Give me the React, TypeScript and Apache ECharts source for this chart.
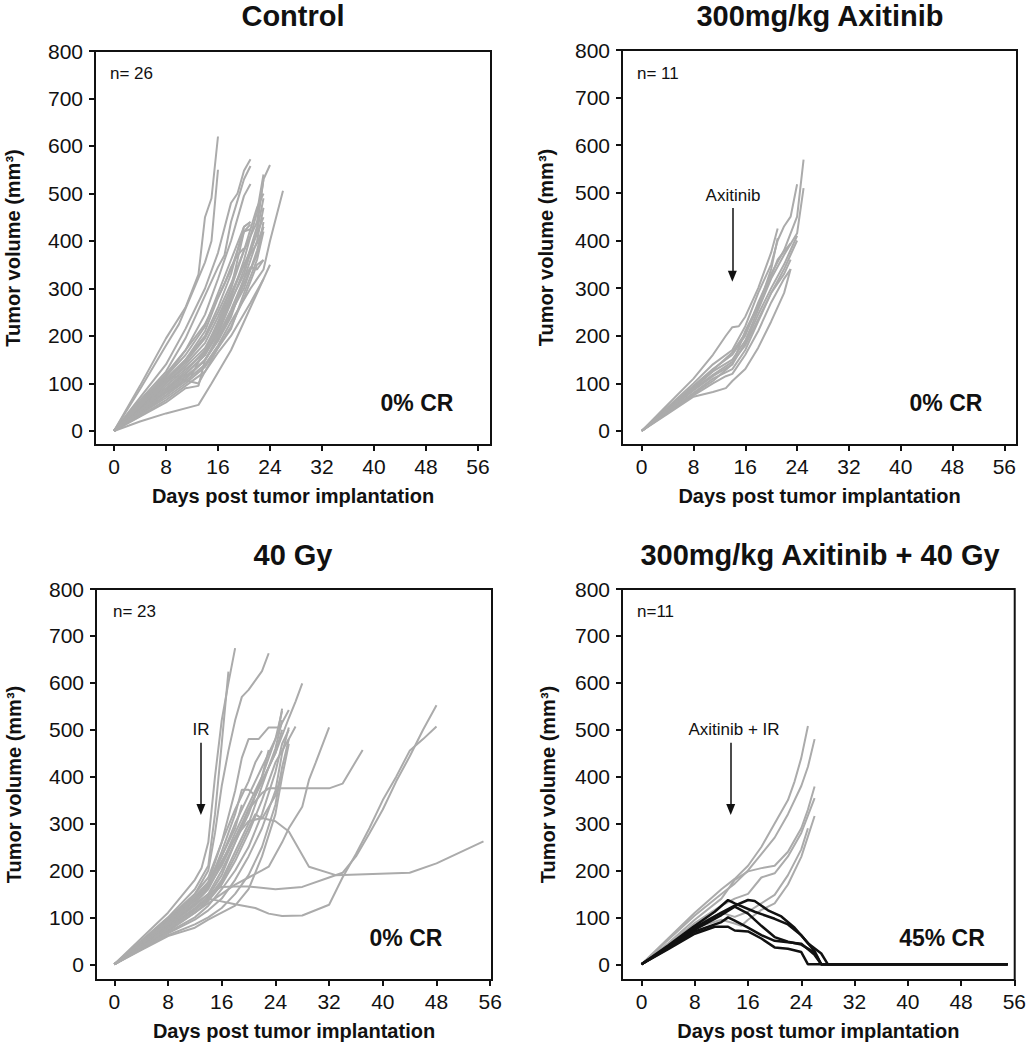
import React, { useEffect, useRef } from "react";
import * as echarts from "echarts";

type Pt = [number, number];

// ---------- Data (day, tumor volume mm3) ----------
const xTicks = [0, 8, 16, 24, 32, 40, 48, 56];
const yTicks = [0, 100, 200, 300, 400, 500, 600, 700, 800];

const panelTitles = ["Control", "300mg/kg Axitinib", "40 Gy", "300mg/kg Axitinib + 40 Gy"];
const nLabels = ["n= 26", "n= 11", "n= 23", "n=11"];
const crLabels = ["0% CR", "0% CR", "0% CR", "45% CR"];
const arrowLabels = ["", "Axitinib", "IR", "Axitinib + IR"];
// arrow: [day, top volume, tip volume]
const arrowDefs: (number[] | null)[] = [null, [14, 468, 325], [12.9, 472, 330], [13.4, 472, 330]];

const controlMice: Pt[][] = [
  [[0, 0], [4, 95], [8, 195], [11, 260], [13, 330], [14, 450], [15, 490], [16, 620]],
  [[0, 0], [4, 88], [8, 180], [10, 225], [12, 290], [14, 355], [15, 400], [16, 550]],
  [[0, 0], [4, 70], [8, 140], [11, 215], [14, 300], [16, 375], [18, 480], [19, 500], [20, 548], [21, 572]],
  [[0, 0], [4, 65], [8, 125], [11, 195], [14, 285], [16, 345], [17, 370], [18, 440], [19, 485], [20, 530], [21, 558]],
  [[0, 0], [4, 60], [8, 115], [11, 170], [14, 245], [16, 320], [18, 400], [20, 495], [21, 520]],
  [[0, 0], [4, 55], [8, 110], [11, 150], [14, 200], [16, 260], [18, 330], [20, 430], [21, 440]],
  [[0, 0], [4, 50], [8, 100], [11, 140], [14, 185], [16, 240], [18, 300], [20, 420], [21, 425]],
  [[0, 0], [4, 45], [8, 95], [11, 130], [14, 165], [16, 210], [18, 280], [20, 360], [22, 460], [23, 540]],
  [[0, 0], [4, 48], [8, 90], [11, 120], [14, 160], [16, 205], [18, 270], [20, 340], [22, 430], [23, 530], [24, 560]],
  [[0, 0], [4, 40], [8, 80], [11, 110], [14, 150], [16, 190], [18, 250], [20, 300], [22, 380], [23, 430]],
  [[0, 0], [4, 38], [8, 75], [11, 105], [14, 140], [16, 180], [18, 230], [21, 300], [23, 340], [24, 400], [26, 506]],
  [[0, 0], [4, 35], [8, 70], [11, 100], [14, 135], [16, 175], [18, 220], [20, 280], [22, 350], [23, 360]],
  [[0, 0], [4, 30], [8, 60], [11, 90], [13, 95], [14, 150], [16, 190], [18, 240], [20, 320], [22, 400], [23, 470]],
  [[0, 0], [4, 20], [8, 37], [13, 55], [15, 100], [18, 170], [20, 230], [22, 290], [23, 320]],
  [[0, 0], [4, 40], [8, 85], [10, 110], [13, 100], [14, 125], [16, 175], [18, 215], [20, 290], [22, 360], [23, 420]],
  [[0, 0], [4, 50], [8, 110], [10, 115], [12, 120], [14, 170], [16, 230], [18, 300], [20, 380], [22, 470], [23, 500]],
  [[0, 0], [4, 55], [8, 105], [11, 145], [14, 195], [16, 250], [18, 310], [20, 380], [22, 440], [23, 530]],
  [[0, 0], [4, 45], [8, 100], [11, 135], [14, 175], [16, 225], [18, 290], [21, 380], [23, 450]],
  [[0, 0], [4, 42], [8, 85], [11, 120], [14, 160], [16, 215], [18, 275], [20, 330], [22, 420], [23, 490]],
  [[0, 0], [4, 32], [8, 65], [11, 95], [14, 125], [16, 165], [18, 200], [21, 270], [23, 320], [24, 350]],
  [[0, 0], [4, 60], [8, 120], [11, 170], [14, 225], [17, 310], [18, 345], [19, 370], [20, 385]],
  [[0, 0], [4, 52], [8, 105], [11, 150], [14, 210], [16, 280], [18, 340], [19, 380], [20, 420], [21, 435]],
  [[0, 0], [4, 36], [8, 75], [11, 110], [14, 150], [16, 195], [18, 245], [20, 310], [22, 370], [23, 440]],
  [[0, 0], [4, 44], [8, 90], [11, 125], [14, 170], [16, 220], [18, 285], [20, 350], [22, 395], [23, 430]],
  [[0, 0], [4, 38], [8, 82], [11, 115], [14, 148], [16, 200], [18, 255], [20, 320], [21, 345], [22, 340], [23, 360]],
  [[0, 0], [4, 58], [8, 115], [11, 160], [14, 220], [16, 290], [18, 360], [20, 430], [21, 440]],
];

const axitinibMice: Pt[][] = [
  [[0, 0], [4, 55], [8, 110], [11, 160], [13, 200], [14, 218], [15, 220], [16, 240], [18, 300], [20, 375], [21, 425]],
  [[0, 0], [4, 50], [8, 100], [11, 140], [14, 170], [16, 220], [18, 290], [20, 350], [21, 400], [22, 430], [23, 450], [24, 518]],
  [[0, 0], [4, 48], [8, 95], [11, 130], [14, 160], [16, 200], [18, 270], [20, 330], [22, 380], [24, 450], [25, 570]],
  [[0, 0], [4, 45], [8, 90], [11, 125], [14, 150], [16, 190], [18, 255], [20, 320], [22, 370], [24, 415], [25, 510]],
  [[0, 0], [4, 42], [8, 85], [11, 115], [14, 140], [16, 185], [18, 245], [20, 300], [22, 350], [23, 380], [24, 410]],
  [[0, 0], [4, 40], [8, 80], [11, 110], [14, 130], [16, 170], [18, 230], [20, 290], [22, 340], [23, 370], [24, 400]],
  [[0, 0], [4, 38], [8, 75], [11, 100], [13, 115], [14, 120], [16, 160], [18, 210], [20, 270], [22, 320], [23, 340]],
  [[0, 0], [4, 36], [8, 72], [11, 82], [13, 90], [14, 105], [16, 130], [18, 175], [20, 230], [22, 290], [23, 340]],
  [[0, 0], [4, 40], [8, 78], [11, 105], [14, 140], [15, 175], [16, 210], [18, 265], [20, 325], [21, 360], [23, 394]],
  [[0, 0], [4, 46], [8, 92], [11, 128], [14, 165], [16, 205], [18, 260], [19, 300], [20, 340], [21, 405]],
  [[0, 0], [4, 44], [8, 88], [11, 118], [14, 145], [16, 180], [18, 235], [20, 290], [22, 330], [23, 360]],
];

const irMice: Pt[][] = [
  [[0, 0], [4, 55], [8, 110], [12, 180], [13, 205], [14, 260], [15, 400], [16, 520], [17, 600], [18, 674]],
  [[0, 0], [4, 50], [8, 100], [12, 160], [14, 210], [15, 320], [16, 470], [17, 624]],
  [[0, 0], [4, 45], [8, 95], [12, 150], [14, 200], [15, 280], [16, 380], [17, 455], [18, 520], [19, 570], [20, 585], [22, 625], [23, 663]],
  [[0, 0], [4, 40], [8, 82], [12, 130], [14, 165], [16, 210], [18, 270], [20, 330], [22, 390], [24, 450], [26, 525], [27, 560], [28, 599]],
  [[0, 0], [4, 44], [8, 90], [12, 140], [14, 175], [16, 260], [18, 370], [19, 440], [20, 480], [21.5, 480], [23, 505], [24.5, 505], [25, 545]],
  [[0, 0], [4, 42], [8, 88], [12, 135], [14, 170], [16, 230], [18, 300], [20, 360], [22, 420], [24, 480], [25, 515], [26, 542]],
  [[0, 0], [4, 36], [8, 72], [12, 110], [14, 135], [16, 170], [18, 220], [20, 280], [22, 350], [24, 430], [26, 480], [27, 507]],
  [[0, 0], [4, 35], [8, 70], [12, 110], [14, 130], [16, 150], [18, 170], [20, 185], [22, 200], [23, 208], [25, 260], [26, 290], [28, 336], [29, 393], [30, 430], [32, 505]],
  [[0, 0], [4, 38], [8, 78], [12, 120], [14, 145], [16, 190], [18, 260], [20, 330], [22, 365], [23, 375], [28, 375], [32, 375], [34, 385], [37, 457]],
  [[0, 0], [4, 45], [8, 92], [12, 140], [14, 170], [16, 220], [18, 270], [20, 305], [22, 312], [24, 305], [26, 283], [29, 208], [33, 190], [44, 195], [48, 215], [55, 262]],
  [[0, 0], [4, 40], [8, 84], [12, 128], [14, 150], [16, 165], [18, 166], [20, 166], [24, 160], [28, 165], [32, 185], [34, 195], [36, 230], [38, 279], [40, 330], [42, 390], [44, 443], [46, 500], [48, 552]],
  [[0, 0], [4, 37], [8, 76], [12, 118], [14, 140], [18, 128], [21, 120], [23, 108], [25, 103], [28, 104], [32, 127], [34, 185], [36, 235], [38, 290], [40, 350], [42, 400], [44, 455], [46, 480], [48, 507]],
  [[0, 0], [4, 40], [8, 80], [12, 125], [14, 150], [16, 200], [18, 260], [20, 320], [22, 400], [24, 480], [25, 540]],
  [[0, 0], [4, 38], [8, 76], [12, 118], [14, 140], [16, 180], [18, 240], [20, 300], [22, 380], [24, 460], [25, 520]],
  [[0, 0], [4, 34], [8, 68], [12, 100], [14, 125], [16, 160], [18, 200], [20, 250], [22, 320], [24, 410], [25, 470], [26, 500]],
  [[0, 0], [4, 42], [8, 86], [12, 130], [14, 160], [16, 215], [18, 280], [20, 340], [22, 400], [23, 457]],
  [[0, 0], [4, 44], [8, 90], [12, 138], [14, 170], [16, 240], [18, 320], [19, 372], [20, 372], [21, 360], [22, 390], [24, 450], [25, 500]],
  [[0, 0], [4, 32], [8, 62], [12, 85], [14, 100], [16, 120], [18, 150], [20, 190], [22, 250], [24, 340], [25, 420], [26, 480]],
  [[0, 0], [4, 30], [8, 60], [12, 78], [14, 95], [16, 110], [18, 125], [20, 160], [22, 230], [24, 320], [25, 400], [26, 470]],
  [[0, 0], [4, 46], [8, 95], [12, 145], [14, 175], [16, 230], [18, 290], [19, 340]],
  [[0, 0], [4, 48], [8, 98], [12, 150], [14, 185], [16, 260], [18, 330], [20, 390], [21, 430], [22, 455]],
  [[0, 0], [4, 37], [8, 75], [12, 115], [14, 138], [16, 175], [18, 230], [20, 290], [21, 320], [22, 310], [24, 360], [25, 410]],
  [[0, 0], [4, 33], [8, 66], [12, 95], [14, 115], [16, 140], [18, 180], [20, 230], [22, 290], [24, 370], [25, 450], [26, 505]],
];

const comboGrowMice: Pt[][] = [
  [[0, 0], [4, 55], [8, 110], [12, 160], [14, 182], [16, 210], [18, 250], [20, 300], [22, 350], [23, 390], [24, 440], [25, 508]],
  [[0, 0], [4, 52], [8, 104], [12, 150], [14, 172], [16, 200], [18, 235], [20, 270], [22, 320], [24, 380], [25, 421], [26, 480]],
  [[0, 0], [4, 45], [8, 95], [12, 140], [14, 180], [16, 198], [18, 205], [20, 210], [22, 240], [24, 290], [25, 330], [26, 379]],
  [[0, 0], [4, 42], [8, 88], [12, 125], [14, 140], [16, 150], [18, 185], [20, 194], [22, 230], [24, 280], [26, 354]],
  [[0, 0], [4, 38], [8, 78], [12, 95], [14, 87], [15, 82], [16, 95], [18, 116], [20, 130], [22, 170], [24, 229], [26, 316]],
  [[0, 0], [4, 40], [8, 82], [12, 110], [14, 101], [16, 112], [18, 130], [20, 148], [22, 190], [24, 245], [25, 290]],
];

const comboCRMice: Pt[][] = [
  [[0, 0], [4, 40], [8, 82], [11, 112], [13, 137], [14, 130], [17, 112], [20, 97], [22, 85], [24, 62], [26, 28], [27, 0], [55, 0]],
  [[0, 0], [4, 38], [8, 78], [12, 110], [14, 125], [16, 137], [17, 135], [19, 115], [21, 102], [23, 78], [25, 45], [27, 23], [28, 0], [55, 0]],
  [[0, 0], [4, 36], [8, 74], [12, 105], [14, 123], [16, 108], [18, 82], [20, 58], [22, 48], [24, 42], [26, 25], [27, 0], [55, 0]],
  [[0, 0], [4, 34], [8, 70], [12, 90], [13, 100], [14, 93], [16, 78], [18, 62], [20, 50], [22, 47], [24, 44], [26, 20], [27, 0], [55, 0]],
  [[0, 0], [4, 32], [8, 65], [11, 80], [13, 80], [14, 72], [16, 70], [18, 55], [20, 36], [22, 33], [24, 26], [25, 0], [55, 0]],
];

// ---------- Layout ----------
const grids = [
  { left: 95, top: 51, width: 396, height: 394, xMin: -2.92, xMax: 58.0, yMin: -29.5 },
  { left: 622, top: 50, width: 395, height: 395, xMin: -3.04, xMax: 57.96, yMin: -29.4 },
  { left: 96, top: 589, width: 396, height: 391, xMin: -2.73, xMax: 56.27, yMin: -33.5 },
  { left: 622, top: 589, width: 396, height: 391, xMin: -2.93, xMax: 56.06, yMin: -33.5 },
];
const yNameGaps = [72, 66, 72, 64];
const titlePos = [[293, 16], [820, 16], [293, 555], [820, 555]];
const nPos = [[110, 73], [637, 73], [113, 611], [637, 611]];
const crPos = [[417, 403], [946, 403], [406, 938], [942, 938]];
const arrowTextPos = [[0, 0], [733, 195], [201, 729], [734, 729]];

const GRAY = "#ababab";
const FONT = '"Liberation Sans", Arial, Helvetica, sans-serif';

export default function App() {
  const ref = useRef<HTMLDivElement>(null);
  useEffect(() => {
    if (!ref.current) return;
    const chart = echarts.init(ref.current, undefined, { renderer: "svg" });

    const gridOpt = grids.map((g) => ({
      left: g.left, top: g.top, width: g.width, height: g.height,
      show: true, borderColor: "#111", borderWidth: 2, backgroundColor: "transparent",
    }));
    const xAxes = grids.map((g, i) => ({
      type: "value", gridIndex: i, min: g.xMin, max: g.xMax,
      name: "Days post tumor implantation", nameLocation: "middle", nameGap: 41,
      nameTextStyle: { fontFamily: FONT, fontWeight: "bold", fontSize: 20, color: "#111" },
      axisLine: { show: false, onZero: false },
      axisTick: { show: true, customValues: xTicks, length: 6, lineStyle: { color: "#111", width: 2 } },
      axisLabel: { customValues: xTicks, margin: 11, fontFamily: FONT, fontSize: 21, color: "#111" },
      splitLine: { show: false },
    }));
    const yAxes = grids.map((g, i) => ({
      type: "value", gridIndex: i, min: g.yMin, max: 800,
      name: "Tumor volume (mm³)", nameLocation: "middle", nameGap: yNameGaps[i], nameRotate: 90,
      nameTextStyle: { fontFamily: FONT, fontWeight: "bold", fontSize: 20, color: "#111" },
      axisLine: { show: false, onZero: false },
      axisTick: { show: true, customValues: yTicks, length: 6, lineStyle: { color: "#111", width: 2 } },
      axisLabel: { customValues: yTicks, margin: 12, fontFamily: FONT, fontSize: 21, color: "#111" },
      splitLine: { show: false },
    }));

    const series: any[] = [];
    const addLines = (mice: Pt[][], idx: number, color: string, width: number, z: number) => {
      mice.forEach((m) => {
        series.push({
          type: "line", xAxisIndex: idx, yAxisIndex: idx, data: m, showSymbol: false, symbol: "none",
          lineStyle: { color, width }, silent: true, z, clip: true,
        });
      });
    };
    addLines(controlMice, 0, GRAY, 2, 2);
    addLines(axitinibMice, 1, GRAY, 2, 2);
    addLines(irMice, 2, GRAY, 2, 2);
    addLines(comboGrowMice, 3, GRAY, 2, 2);
    addLines(comboCRMice, 3, "#111", 2.5, 3);

    arrowDefs.forEach((a, i) => {
      if (!a) return;
      series.push({
        type: "line", xAxisIndex: i, yAxisIndex: i, data: [], silent: true,
        markLine: {
          silent: true, animation: false, symbol: ["none", "triangle"], symbolSize: [9, 11],
          label: { show: false },
          lineStyle: { color: "#111", width: 1.5, type: "solid" },
          data: [[{ coord: [a[0], a[1]] }, { coord: [a[0], a[2]] }]],
        },
      });
    });

    const graphics: any[] = [];
    panelTitles.forEach((t, i) => {
      graphics.push({ type: "text", x: titlePos[i][0], y: titlePos[i][1],
        style: { text: t, font: `bold 29px ${FONT}`, fill: "#111", align: "center", verticalAlign: "middle" } });
      graphics.push({ type: "text", x: nPos[i][0], y: nPos[i][1],
        style: { text: nLabels[i], font: `17px ${FONT}`, fill: "#111", align: "left", verticalAlign: "middle" } });
      graphics.push({ type: "text", x: crPos[i][0], y: crPos[i][1],
        style: { text: crLabels[i], font: `bold 23px ${FONT}`, fill: "#111", align: "center", verticalAlign: "middle" } });
      if (arrowLabels[i]) {
        graphics.push({ type: "text", x: arrowTextPos[i][0], y: arrowTextPos[i][1],
          style: { text: arrowLabels[i], font: `17px ${FONT}`, fill: "#111", align: "center", verticalAlign: "middle" } });
      }
    });

    chart.setOption({
      animation: false,
      backgroundColor: "#fff",
      grid: gridOpt,
      xAxis: xAxes,
      yAxis: yAxes,
      series,
      graphic: graphics,
    });
    return () => chart.dispose();
  }, []);
  return <div ref={ref} style={{ position: "absolute", left: 0, top: 0, width: 1029, height: 1050 }} />;
}
